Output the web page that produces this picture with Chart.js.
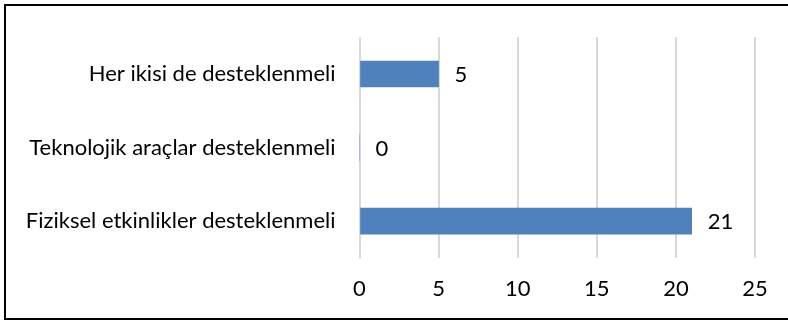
<!DOCTYPE html>
<html>
<head>
<meta charset="utf-8">
<script src="https://cdn.jsdelivr.net/npm/chart.js@4/dist/chart.umd.min.js"></script>
<style>
  html, body { margin: 0; padding: 0; background: #fff; }
  #wrap { width: 788px; height: 323px; position: relative; }
</style>
</head>
<body>
<div id="wrap"><canvas id="c" width="788" height="323"></canvas></div>
<script>
const categories = ["Her ikisi de desteklenmeli", "Teknolojik araçlar desteklenmeli", "Fiziksel etkinlikler desteklenmeli"];
const values = [5, 0, 21];
const xTicks = [0, 5, 10, 15, 20, 25];

const FONT = "Lato";
const FONT_SIZE = 22;

const frame = {
  id: 'frame',
  afterDraw(chart) {
    const ctx = chart.ctx;
    ctx.save();
    ctx.strokeStyle = '#000';
    ctx.lineWidth = 2;
    ctx.strokeRect(5, 5, 800, 314);
    ctx.restore();
  }
};

const valueLabels = {
  id: 'valueLabels',
  afterDatasetsDraw(chart) {
    const ctx = chart.ctx;
    const meta = chart.getDatasetMeta(0);
    ctx.save();
    ctx.font = FONT_SIZE + 'px ' + FONT;
    ctx.fillStyle = '#000';
    ctx.textAlign = 'left';
    ctx.textBaseline = 'middle';
    meta.data.forEach((bar, i) => {
      ctx.fillText(String(values[i]), bar.x + 16, bar.y + 1);
    });
    ctx.restore();
  }
};

new Chart(document.getElementById('c'), {
  type: 'bar',
  data: {
    labels: categories,
    datasets: [{
      data: values,
      backgroundColor: '#4F81BD',
      borderWidth: 0,
      barThickness: 26
    }]
  },
  options: {
    indexAxis: 'y',
    responsive: false,
    animation: false,
    devicePixelRatio: 1,
    layout: { padding: { left: 0, right: 33, top: 34, bottom: 0 } },
    plugins: { legend: { display: false }, tooltip: { enabled: false } },
    scales: {
      x: {
        min: 0, max: 25,
        afterBuildTicks(scale) { scale.ticks = xTicks.map(v => ({ value: v })); },
        afterFit(scale) { scale.height = 65; },
        grid: { color: '#D9D9D9', lineWidth: 2, drawTicks: false },
        border: { display: false },
        ticks: { color: '#000', font: { family: FONT, size: FONT_SIZE }, padding: 18 }
      },
      y: {
        afterFit(scale) { scale.width = 359.5; },
        grid: { display: false, drawTicks: false },
        border: { display: false },
        ticks: { color: '#000', font: { family: FONT, size: FONT_SIZE }, padding: 24 }
      }
    }
  },
  plugins: [frame, valueLabels]
});
</script>
</body>
</html>
